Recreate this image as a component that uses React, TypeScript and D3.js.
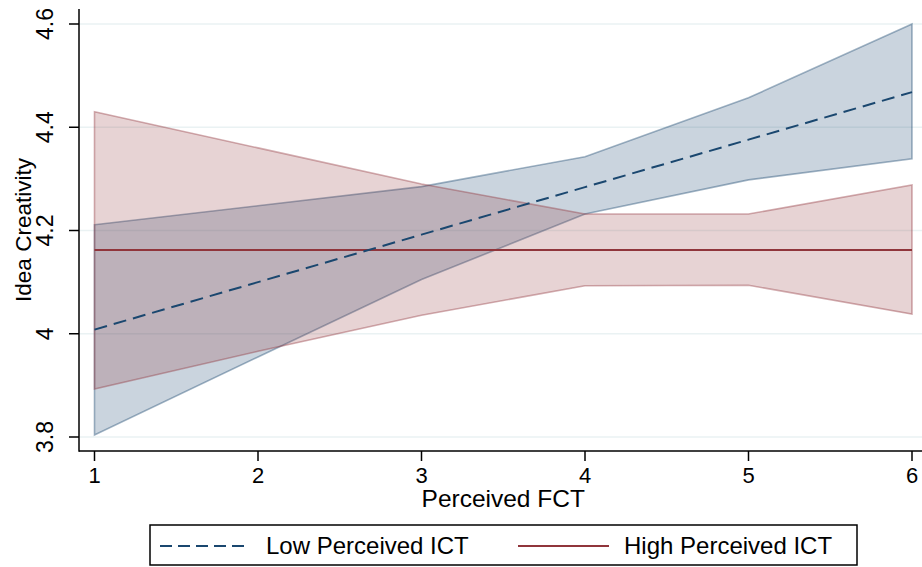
import * as d3 from "d3";

const fct = [1, 2, 3, 4, 5, 6];
const lowMean = [4.008, 4.1, 4.192, 4.284, 4.376, 4.468];
const lowUpper = [4.211, 4.248, 4.285, 4.343, 4.457, 4.6];
const lowLower = [3.804, 3.955, 4.105, 4.232, 4.298, 4.339];
const highMean = [4.162, 4.162, 4.162, 4.162, 4.162, 4.162];
const highUpper = [4.43, 4.36, 4.29, 4.232, 4.232, 4.288];
const highLower = [3.893, 3.966, 4.036, 4.093, 4.094, 4.038];

const yTicks = [3.8, 4, 4.2, 4.4, 4.6];
const yTickLabels = ["3.8", "4", "4.2", "4.4", "4.6"];
const xTicks = [1, 2, 3, 4, 5, 6];

const W = 922;
const H = 567;
const NAVY = "#1a476f";
const MAROON = "#90353b";
const FONT = "'Liberation Sans', Arial, sans-serif";

export default function App() {
  const x = d3.scaleLinear().domain([1, 6]).range([94.5, 912]);
  const y = d3.scaleLinear().domain([3.8, 4.6]).range([437, 24]);

  const left = 79;
  const bottom = 451;

  const band = (lo: number[], hi: number[]) =>
    d3
      .area<number>()
      .x((d) => x(d))
      .y0((_, i) => y(lo[i]))
      .y1((_, i) => y(hi[i]))(fct) || "";
  const line = (vals: number[]) =>
    d3
      .line<number>()
      .x((d) => x(d))
      .y((_, i) => y(vals[i]))(fct) || "";

  return (
    <svg
      width={W}
      height={H}
      style={{ position: "absolute", left: 0, top: 0, background: "#fff" }}
      fontFamily={FONT}
    >
      {/* grid */}
      {yTicks.map((t) => (
        <line key={"g" + t} x1={left + 1} x2={W} y1={y(t)} y2={y(t)} stroke="#eaf2f3" strokeWidth={1.5} />
      ))}

      {/* CI bands */}
      <path d={band(lowLower, lowUpper)} fill={NAVY} fillOpacity={0.23} stroke={NAVY} strokeOpacity={0.4} strokeWidth={1.6} />
      <path d={band(highLower, highUpper)} fill={MAROON} fillOpacity={0.22} stroke={MAROON} strokeOpacity={0.4} strokeWidth={1.6} />

      {/* means */}
      <path d={line(highMean)} fill="none" stroke={MAROON} strokeWidth={2} />
      <path d={line(lowMean)} fill="none" stroke={NAVY} strokeWidth={2} strokeDasharray="13,7" />

      {/* axes */}
      <line x1={left} x2={left} y1={9} y2={bottom + 0.75} stroke="#000" strokeWidth={1.5} />
      <line x1={left} x2={W} y1={bottom} y2={bottom} stroke="#000" strokeWidth={1.5} />
      {yTicks.map((t, i) => (
        <g key={"y" + t}>
          <line x1={left - 10} x2={left} y1={y(t)} y2={y(t)} stroke="#000" strokeWidth={1.5} />
          <text
            transform={`translate(53,${y(t)}) rotate(-90)`}
            textAnchor="middle"
            fontSize={23}
            fill="#000"
          >
            {yTickLabels[i]}
          </text>
        </g>
      ))}
      {xTicks.map((t) => (
        <g key={"x" + t}>
          <line x1={x(t)} x2={x(t)} y1={bottom} y2={bottom + 10} stroke="#000" strokeWidth={1.5} />
          <text x={x(t)} y={483} textAnchor="middle" fontSize={22} fill="#000">
            {t}
          </text>
        </g>
      ))}

      <text x={(x(1) + x(6)) / 2} y={507} textAnchor="middle" fontSize={24.5} fill="#000">
        Perceived FCT
      </text>
      <text transform={`translate(31,230) rotate(-90)`} textAnchor="middle" fontSize={22.5} fill="#000">
        Idea Creativity
      </text>

      {/* legend */}
      <rect x={150} y={525} width={707} height={40} fill="#fff" stroke="#000" strokeWidth={1.5} />
      <line x1={160} x2={250} y1={546} y2={546} stroke={NAVY} strokeWidth={2} strokeDasharray="12,6" />
      <text x={266} y={554} fontSize={24} fill="#000">
        Low Perceived ICT
      </text>
      <line x1={518} x2={609} y1={546} y2={546} stroke={MAROON} strokeWidth={2} />
      <text x={624} y={554} fontSize={24} fill="#000">
        High Perceived ICT
      </text>
    </svg>
  );
}
